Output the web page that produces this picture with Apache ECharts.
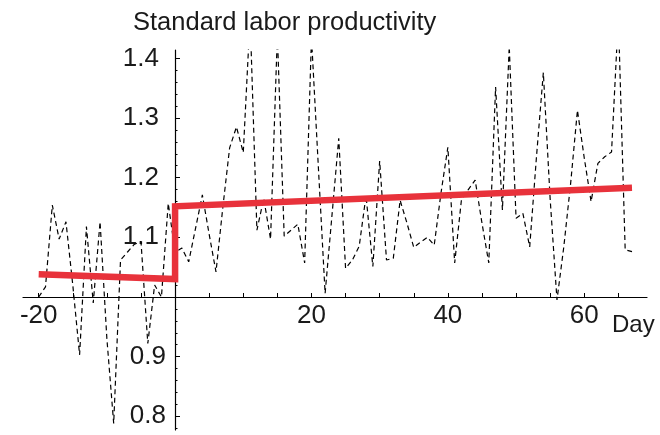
<!DOCTYPE html>
<html>
<head>
<meta charset="utf-8">
<script src="https://cdn.jsdelivr.net/npm/echarts@6/dist/echarts.min.js"></script>
<style>
html,body{margin:0;padding:0;background:#fff;}
#chart{width:660px;height:435px;}
</style>
</head>
<body>
<div id="chart"></div>
<script>
// Days and daily standard labor productivity (dashed line)
var days = [-20,-19,-18,-17,-16,-15,-14,-13,-12,-11,-10,-9,-8,-7,-6,-5,-4,-3,-2,-1,
  0,1,2,3,4,5,6,7,8,9,10,11,12,13,14,15,16,17,18,19,20,21,22,23,24,25,26,27,28,29,
  30,31,32,33,34,35,36,37,38,39,40,41,42,43,44,45,46,47,48,49,50,51,52,53,54,55,56,57,58,59,
  60,61,62,63,64,65,66,67];
var productivity = [1.000,1.017,1.154,1.097,1.126,1.020,0.903,1.118,0.990,1.126,0.930,0.788,1.062,1.075,1.088,1.093,0.922,1.020,1.000,1.157,
  1.075,1.082,1.059,1.115,1.171,1.105,1.042,1.150,1.250,1.285,1.242,1.470,1.112,1.165,1.097,1.440,1.102,1.112,1.122,1.057,
  1.435,1.220,1.006,1.136,1.266,1.048,1.062,1.085,1.170,1.051,1.228,1.062,1.065,1.162,1.124,1.083,1.092,1.100,1.087,1.175,
  1.251,1.057,1.164,1.180,1.196,1.124,1.057,1.352,1.146,1.420,1.132,1.140,1.084,1.236,1.376,1.164,0.995,1.084,1.190,1.313,
  1.233,1.160,1.224,1.235,1.243,1.470,1.079,1.076];
// Fitted trend (red): before and after day 0
var trendDays = [-20, 0, 0, 67];
var trendValues = [1.038, 1.030, 1.152, 1.183];

// Axis ticks and labels
var xTicks = [-20,-15,-10,-5,0,5,10,15,20,25,30,35,40,45,50,55,60,65];
var xLabels = [-20,20,40,60];
var yTicks = [0.78,0.80,0.82,0.84,0.86,0.88,0.90,0.92,0.94,0.96,0.98,1.00,1.02,1.04,1.06,1.08,1.10,1.12,1.14,1.16,1.18,1.20,1.22,1.24,1.26,1.28,1.30,1.32,1.34,1.36,1.38,1.40];
var yLabelsUpper = [1.1,1.2,1.3,1.4];
var yLabelsLower = [0.8,0.9];
var yMajorTicks = [0.8,0.9,1.0,1.1,1.2,1.3,1.4];

var xMin = -22.3, xMax = 69.2, yMin = 0.777, yMax = 1.414;

function zip(a, b){ return a.map(function(v,i){ return [v, b[i]]; }); }

var font = "'Liberation Sans', Arial, Helvetica, sans-serif";
var txt = '#1a1a1a';
var chart = echarts.init(document.getElementById('chart'), null, {renderer:'canvas'});
chart.setOption({
  animation: false,
  backgroundColor: '#ffffff',
  title: {
    text: 'Standard labor productivity',
    left: 128, top: 5,
    textStyle: {fontFamily: font, fontSize: 25.5, fontWeight: 'normal', color: txt}
  },
  grid: {left: 23, right: 13, top: 50, bottom: 5, containLabel: false, outerBoundsMode: 'none'},
  xAxis: {
    type: 'value', min: xMin, max: xMax,
    position: 'bottom',
    offset: -133,
    name: 'Day', nameLocation: 'end', nameGap: -35,
    nameTextStyle: {fontFamily: font, fontSize: 24, color: txt, verticalAlign: 'top', align: 'left', padding: [16,0,0,0]},
    axisLine: {onZero: false, lineStyle: {color: '#000', width: 1.2}},
    axisTick: {inside: true, length: 4, customValues: xTicks, lineStyle: {color: '#000', width: 1}},
    axisLabel: {customValues: xLabels, margin: 6, fontFamily: font, fontSize: 26, color: txt,
      formatter: function(v){ return String(v); }},
    splitLine: {show: false}
  },
  yAxis: [{
    type: 'value', min: yMin, max: yMax,
    position: 'left', offset: -152,
    axisLine: {onZero: false, lineStyle: {color: '#000', width: 1.2}},
    axisTick: {inside: true, length: 2.5, customValues: yTicks, lineStyle: {color: '#000', width: 1}},
    axisLabel: {customValues: yLabelsUpper, margin: 16, fontFamily: font, fontSize: 26, color: txt,
      formatter: function(v){ return v.toFixed(1); }},
    splitLine: {show: false}
  }, {
    type: 'value', min: yMin, max: yMax,
    position: 'left', offset: -152,
    axisLine: {show: false, onZero: false},
    axisTick: {inside: true, length: 5, customValues: yMajorTicks, lineStyle: {color: '#000', width: 1}},
    axisLabel: {customValues: yLabelsLower, margin: 9, fontFamily: font, fontSize: 26, color: txt,
      formatter: function(v){ return v.toFixed(1); }},
    splitLine: {show: false}
  }],
  series: [{
    type: 'line',
    data: zip(days, productivity),
    showSymbol: false,
    clip: true,
    lineStyle: {color: '#000', width: 1.2, type: [5, 3.5]},
    z: 2
  }, {
    type: 'line',
    data: zip(trendDays, trendValues),
    showSymbol: false,
    clip: true,
    lineStyle: {color: '#e8323b', width: 6.5, cap: 'butt', join: 'miter'},
    z: 3
  }]
});
</script>
</body>
</html>
